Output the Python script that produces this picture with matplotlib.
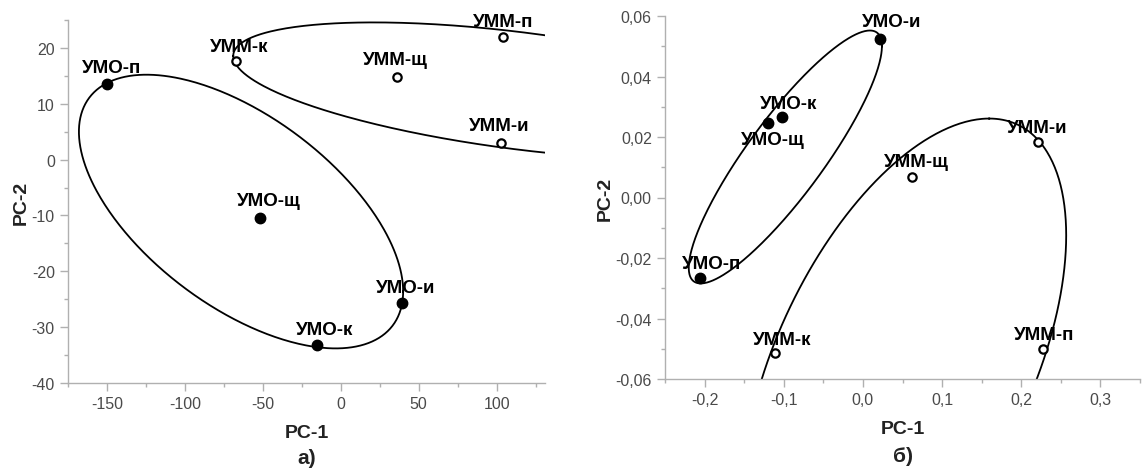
import matplotlib
matplotlib.use("Agg")
import matplotlib.pyplot as plt
import numpy as np
from matplotlib.ticker import MultipleLocator, FuncFormatter

plt.rcParams['font.family'] = ['Liberation Sans', 'DejaVu Sans']
plt.rcParams['axes.unicode_minus'] = False

# panel a) -- scores on PC-1 / PC-2
a_umo_names = ['УМО-п', 'УМО-щ', 'УМО-и', 'УМО-к']
a_umo_x = [-150, -52, 39, -15]
a_umo_y = [13.6, -10.5, -25.7, -33.2]
a_umm_names = ['УММ-к', 'УММ-щ', 'УММ-п', 'УММ-и']
a_umm_x = [-67, 36, 104, 103]
a_umm_y = [17.6, 14.8, 22.0, 3.0]

# panel б)
b_umo_names = ['УМО-и', 'УМО-к', 'УМО-щ', 'УМО-п']
b_umo_x = [0.022, -0.102, -0.120, -0.206]
b_umo_y = [0.0525, 0.0265, 0.0245, -0.0267]
b_umm_names = ['УММ-и', 'УММ-щ', 'УММ-к', 'УММ-п']
b_umm_x = [0.221, 0.062, -0.111, 0.227]
b_umm_y = [0.0184, 0.0067, -0.0515, -0.0500]

# ellipses: centre, two conjugate semi-diameters
a_ell_umo = ((-64, -9.3), (104, -14.3), (0, 19.9))
a_ell_umm = ((115, 12.3), (-184, 6.26), (0, 10.55))
b_ell_umo = ((-0.098, 0.0134), (0.122, 0.0366), (0, 0.0202))
b_ell_umm = ((0.0525, -0.055), (0.107, 0.0811), (0.174, 0))

# label offsets in pixels (label centre relative to point)
a_umo_off = [(5, 16), (9, 18), (4, 16), (7, 16)]
a_umm_off = [(3, 15), (-1, 17), (0, 15), (-2, 17)]
b_umo_off = [(11, 17), (7, 14), (5, -16), (12, 15)]
b_umm_off = [(-1, 14), (4, 16), (7, 14), (2, 14)]

W, H = 1142, 477
fig = plt.figure(figsize=(W / 100, H / 100), dpi=100)

ax_a = fig.add_axes([68 / W, 1 - 384 / H, 477 / W, 363 / H])
ax_b = fig.add_axes([665 / W, 1 - 380 / H, 475 / W, 363 / H])


def draw_ellipse(ax, ell):
    (cx, cy), (ux, uy), (vx, vy) = ell
    t = np.linspace(0, 2 * np.pi, 500)
    ax.plot(cx + ux * np.cos(t) + vx * np.sin(t),
            cy + uy * np.cos(t) + vy * np.sin(t),
            color='black', lw=1.3, zorder=2)


def draw_points(ax, xs, ys, names, offs, filled):
    if filled:
        ax.plot(xs, ys, 'o', ms=7.5, mfc='black', mec='black', zorder=3, clip_on=False)
    else:
        ax.plot(xs, ys, 'o', ms=6, mfc='white', mec='black', mew=1.6, zorder=3, clip_on=False)
    for x, y, n, (dx, dy) in zip(xs, ys, names, offs):
        ax.annotate(n, (x, y), xytext=(dx, dy), textcoords='offset pixels',
                    ha='center', va='center', fontsize=13.5, fontweight='bold',
                    color='black', zorder=4)


def style_axes(ax, xmaj, xmin, ymaj, ymin, fmt):
    for s in ['top', 'right']:
        ax.spines[s].set_visible(False)
    for s in ['left', 'bottom']:
        ax.spines[s].set_color('#b0b0b0')
        ax.spines[s].set_linewidth(1.0)
    ax.xaxis.set_major_locator(MultipleLocator(xmaj))
    ax.xaxis.set_minor_locator(MultipleLocator(xmin))
    ax.yaxis.set_major_locator(MultipleLocator(ymaj))
    ax.yaxis.set_minor_locator(MultipleLocator(ymin))
    ax.tick_params(which='major', direction='out', length=6, width=1, color='#b0b0b0',
                   labelsize=11.5, labelcolor='#4a4a4a')
    ax.tick_params(which='minor', direction='out', length=3, width=1, color='#b0b0b0')
    ax.xaxis.set_major_formatter(FuncFormatter(fmt[0]))
    ax.yaxis.set_major_formatter(FuncFormatter(fmt[1]))


# ---- panel a
draw_ellipse(ax_a, a_ell_umo)
draw_ellipse(ax_a, a_ell_umm)
draw_points(ax_a, a_umo_x, a_umo_y, a_umo_names, a_umo_off, True)
draw_points(ax_a, a_umm_x, a_umm_y, a_umm_names, a_umm_off, False)
ax_a.set_xlim(-175, 131)
ax_a.set_ylim(-40, 25)
style_axes(ax_a, 50, 25, 10, 5,
           (lambda v, p: '%d' % round(v), lambda v, p: '%d' % round(v)))
ax_a.set_xlabel('PC-1', fontsize=14, fontweight='bold', color='#222222', labelpad=9.5)
ax_a.set_ylabel('PC-2', fontsize=14, fontweight='bold', color='#222222', labelpad=1)
ax_a.text(0.5, -0.205, 'а)', transform=ax_a.transAxes, ha='center', va='center',
          fontsize=15, fontweight='bold', color='#222222')

# ---- panel б
draw_ellipse(ax_b, b_ell_umo)
draw_ellipse(ax_b, b_ell_umm)
draw_points(ax_b, b_umo_x, b_umo_y, b_umo_names, b_umo_off, True)
draw_points(ax_b, b_umm_x, b_umm_y, b_umm_names, b_umm_off, False)
ax_b.set_xlim(-0.25, 0.35)
ax_b.set_ylim(-0.06, 0.06)
style_axes(ax_b, 0.1, 0.05, 0.02, 0.01,
           (lambda v, p: ('%.1f' % v).replace('.', ','),
            lambda v, p: ('%.2f' % v).replace('.', ',')))
ax_b.set_xlabel('PC-1', fontsize=14, fontweight='bold', color='#222222', labelpad=9)
ax_b.set_ylabel('PC-2', fontsize=14, fontweight='bold', color='#222222', labelpad=1)
ax_b.text(0.5, -0.21, 'б)', transform=ax_b.transAxes, ha='center', va='center',
          fontsize=15, fontweight='bold', color='#222222')

fig.savefig('out.png', dpi=100)
